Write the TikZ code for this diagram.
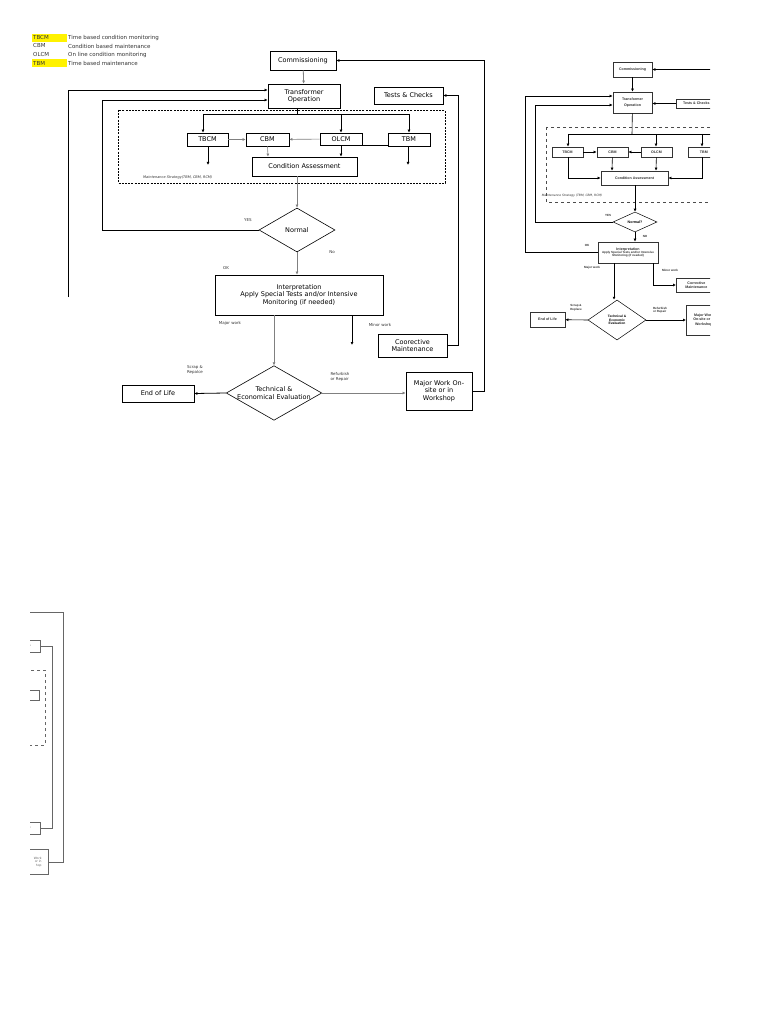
\documentclass[tikz,border=0pt]{standalone}
\usepackage{fontspec}
\setmainfont{DejaVu Sans}
\newfontfamily\arialf{Liberation Sans}
\usetikzlibrary{arrows.meta,shapes.geometric}
\begin{document}
\begin{tikzpicture}[x=1pt,y=-1pt,
  bx/.style={draw,line width=0.8pt,inner sep=0pt,font=\fontsize{6.5}{7.5}\selectfont,align=center},
  dia/.style={draw,line width=0.6pt,diamond,aspect=1.75,inner sep=0pt,font=\fontsize{6.5}{7.5}\selectfont,align=center},
  ln/.style={line width=0.8pt},
  ar/.style={line width=0.8pt,-{Latex[length=3pt,width=3pt]}},
  gar/.style={line width=0.6pt,gray,-{Latex[length=3pt,width=3pt]}},
  lbl/.style={font=\fontsize{4}{5}\selectfont,text=black!80,inner sep=0pt,align=left},
  leg/.style={font=\fontsize{5.5}{6}\selectfont,inner sep=0pt,anchor=west,text=black!80},
  sbx/.style={draw,line width=0.7pt,inner sep=0pt,font=\arialf\bfseries\fontsize{3.6}{4.2}\selectfont,align=center,text=black!80,draw=black!80},
  slbl/.style={font=\arialf\bfseries\fontsize{3}{3.5}\selectfont,text=black!80,inner sep=0pt,align=left}]
\useasboundingbox (0,0) rectangle (768,1024);
\fill[white] (0,0) rectangle (768,1024);
% legend
\fill[yellow] (32,34) rectangle (67,42);
\fill[yellow] (32,59) rectangle (67,67);
\foreach \a/\d/\y in {TBCM/Time based condition monitoring/38, CBM/Condition based maintenance/46, OLCM/On line condition monitoring/55, TBM/Time based maintenance/63}
 {\node[leg] (la\y) at (33,\y) {\a}; \node[leg] (ld\y) at (68,\y) {\d};}
% main boxes
\node[bx,minimum width=66pt,minimum height=19pt] (com) at (303,60.5) {Commissioning};
\node[bx,minimum width=72pt,minimum height=24pt] (to) at (304,96) {Transformer\\Operation};
\node[bx,minimum width=69pt,minimum height=17pt] (tc) at (408.5,95.5) {Tests \& Checks};
\draw[line width=0.7pt,dash pattern=on 2pt off 1.2pt] (118,110) rectangle (445,183);
\node[bx,minimum width=41pt,minimum height=13pt] (tbcm) at (207.5,139.5) {TBCM};
\node[bx,minimum width=43pt,minimum height=13pt] (cbm) at (267.5,139.5) {CBM};
\node[bx,minimum width=42pt,minimum height=12pt] (olcm) at (341,139) {OLCM};
\node[bx,minimum width=42pt,minimum height=13pt] (tbm) at (409,139.5) {TBM};
\node[bx,minimum width=105pt,minimum height=19pt] (ca) at (304.5,166.5) {Condition Assessment};
\node[lbl,font=\itshape\fontsize{3.5}{4}\selectfont,anchor=west] (ms) at (143,178) {Maintenance Strategy(TBM, CBM, RCM)};
\node[dia,minimum width=76pt,minimum height=44pt] (nor) at (297,230) {Normal};
\node[bx,minimum width=168pt,minimum height=40pt] (int) at (299,295) {Interpretation\\Apply Special Tests and/or Intensive\\Monitoring (if needed)};
\node[bx,minimum width=69pt,minimum height=23pt] (cm) at (412.5,345.5) {Coorective\\Maintenance};
\node[dia,minimum width=84pt,minimum height=52pt] (te) at (274,393) {Technical \&\\Economical Evaluation};
\node[bx,minimum width=72pt,minimum height=17pt] (eol) at (158,393.5) {End of Life};
\node[bx,minimum width=66pt,minimum height=38pt] (mw) at (439,391) {Major Work On-\\site or in\\Workshop};
% connectors
\draw[ar,gray] (com) -- (to);
\draw[ln] (297,108) -- (297,114);
\draw[ln] (203,114) -- (409,114);
\draw[ar] (203,114) -- (tbcm.north-|203,0);
\draw[ar] (341,114) -- (olcm);
\draw[ar] (409,114) -- (tbm);
\draw[gar] (tbcm) -- (cbm);
\draw[gar] (olcm) -- (cbm);
\draw[ln] (olcm.east) ++(0,6) coordinate (o1) -- (tbm.west|-o1);
\draw[ar] (tbcm.south-|208,0) -- (208,165);
\draw[gar] (cbm.south) -- (ca.north-|268,0);
\draw[ar] (olcm.south) -- (ca.north-|341,0);
\draw[ar] (tbm.south-|408,0) -- (408,165);
\draw[gar] (ca.south-|297,0) -- (nor.north);
\draw[ar] (nor.west) -| (102,100) -- (to.west|-0,100);
\draw[ar] (68,297) -- (68,90) -- (to.west|-0,90);
\draw[gar] (nor.south) -- (int.north-|297,0);
\draw[gar] (int.south-|274,0) -- (te.north);
\draw[ln] (int.south-|352,0) -- (367,315.5);
\draw[ar] (int.south-|352,0) -- (352,345);
\draw[ar] (cm.east) -- (458,345.5) |- (tc.east);
\draw[ar] (te.west) -- (eol.east);
\draw[gar] (te.east) -- (mw.west|-te.east);
\draw[ar] (mw.east|-0,391) -- (484,391) |- (com.east);
% labels
\node[lbl] (yes) at (248,220) {YES};
\node[lbl] (no) at (332,252) {No};
\node[lbl] (ok) at (226,268) {OK};
\node[lbl] (mj) at (230,323) {Major work};
\node[lbl] (mn) at (380,325) {Minor work};
\node[lbl] (sr) at (195,370) {Scrap \&\\Repalce};
\node[lbl] (rr) at (340,377) {Refurbish\\or Repair};
% right scanned copy
\begin{scope}
\clip (515,50) rectangle (710,345);
\node[sbx,minimum width=39pt,minimum height=15pt] (c2) at (632.5,69.5) {Commissioning};
\node[sbx,minimum width=39pt,minimum height=21pt] (t2) at (632.5,102.5) {Transformer\\[2pt]Operation};
\node[sbx,minimum width=40pt,minimum height=9pt,anchor=west] (k2) at (676,103.5) {Tests \& Checks};
\draw[line width=0.5pt,dashed,black!70] (546,127) rectangle (730,202);
\node[sbx,minimum width=31pt,minimum height=10pt] (a2) at (567.5,152) {TBCM};
\node[sbx,minimum width=31pt,minimum height=10pt] (b2) at (612.5,152) {CBM};
\node[sbx,minimum width=31pt,minimum height=10pt] (o2) at (656.5,152) {OLCM};
\node[sbx,minimum width=31pt,minimum height=10pt,anchor=west] (m2) at (688,152) {TBM};
\node[sbx,minimum width=67pt,minimum height=14pt] (ca2) at (634.5,178) {Condition Assessment};
\node[slbl,font=\itshape\fontsize{3}{3.5}\selectfont] (ms2) at (572,196) {Maintenance Strategy (TBM, CBM, RCM)};
\node[draw,diamond,aspect=2.2,minimum width=44pt,minimum height=20pt,inner sep=0pt,line width=0.5pt,font=\arialf\bfseries\fontsize{3.6}{4}\selectfont] (n2) at (635,222) {Normal?};
\node[sbx,minimum width=60pt,minimum height=21pt] (i2) at (628,252.5) {Interpretation\\[-1pt]{\fontsize{3}{3.3}\selectfont Apply Special Tests and/or Intensive}\\[-1pt]{\fontsize{3}{3.3}\selectfont Monitoring (if needed)}};
\node[sbx,minimum width=40pt,minimum height=14pt,anchor=west] (cm2) at (676,285) {Corrective\\Maintenance};
\node[draw,diamond,aspect=1.45,minimum width=58pt,minimum height=40pt,inner sep=0pt,line width=0.5pt,align=center,font=\arialf\bfseries\fontsize{3.3}{3.8}\selectfont] (te2) at (617,320) {Technical \&\\Economic\\Evaluation};
\node[sbx,minimum width=35pt,minimum height=15pt] (e2) at (547.5,319.5) {End of Life};
\node[sbx,minimum width=35pt,minimum height=30pt,anchor=west] (w2) at (686,320) {Major Work\\On-site or in\\Workshop};
\draw[ar,line width=0.6pt] (712,69.5) -- (c2);
\draw[ar,line width=0.6pt] (c2) -- (t2);
\draw[ar,line width=0.6pt] (k2) -- (t2.east|-k2);
\draw[line width=0.6pt] (t2) -- (632,134);
\draw[line width=0.6pt] (568,134) -- (712,134);
\foreach \n/\xx in {a2/568,o2/656,m2/702} \draw[ar,line width=0.6pt] (\xx,134) -- (\n.north-|\xx,0);
\draw[ar,line width=0.6pt] (a2) -- (b2);
\draw[ar,line width=0.6pt] (o2) -- (b2);
\draw[ar,line width=0.6pt] (b2) -- (ca2.north-|612,0);
\draw[ar,line width=0.6pt] (o2) -- (ca2.north-|656,0);
\draw[ar,line width=0.6pt] (568,157) |- (ca2.west);
\draw[ar,line width=0.6pt] (702,157) |- (ca2.east);
\draw[ar,line width=0.6pt] (ca2.south-|635,0) -- (n2.north);
\draw[ar,line width=0.6pt] (n2.west) -| (535,105) -- (t2.west|-0,105);
\draw[ar,line width=0.6pt] (i2.west) -| (525,96) -- (t2.west|-0,96);
\draw[ar,line width=0.6pt] (n2.south) -- (i2.north-|635,0);
\draw[ar,line width=0.6pt] (i2.south-|653,0) |- (cm2.west);
\draw[ar,line width=0.6pt] (i2.south-|614,0) -- (te2.north-|614,0);
\draw[ar,line width=0.6pt] (te2.west) -- (e2);
\draw[ar,line width=0.6pt] (te2.east) -- (w2.west|-te2.east);
\node[slbl] (y2) at (608,215) {YES};
\node[slbl] (no2) at (645,236) {NO};
\node[slbl] (ok2) at (587,245) {OK};
\node[slbl] (mj2) at (592,268) {Major work};
\node[slbl] (mn2) at (670,270) {Minor work};
\node[slbl] (sr2) at (576,308) {Scrap \&\\Replace};
\node[slbl] (rr2) at (660,310) {Refurbish\\or Repair};
\end{scope}
% bottom-left sliver
\begin{scope}[black!60,line width=0.5pt]
\clip (30,600) rectangle (80,880);
\node[draw,minimum width=20pt,minimum height=12pt,anchor=east,inner sep=0pt,font=\fontsize{3}{3.5}\selectfont] (s1) at (40,646) {\hfill a};
\node[draw,minimum width=20pt,minimum height=12pt,anchor=east,inner sep=0pt,font=\fontsize{3}{3.5}\selectfont] (s2) at (40,828) {\hfill e};
\node[draw,minimum width=20pt,minimum height=10pt,anchor=east,inner sep=0pt] (s3) at (39,695) {};
\draw[dashed] (20,670) rectangle (45,745);
\node[draw,minimum width=20pt,minimum height=25pt,anchor=east,inner sep=1pt,align=right,font=\fontsize{3}{3.5}\selectfont] (s4) at (48,862) {Work\\or in\\hop};
\draw (s1.east) -- (52,646) |- (s2.east);
\draw[line width=0.8pt] (30,612) -- (63,612);
\draw (63,612) |- (s4.east);
\end{scope}
\end{tikzpicture}
\end{document}
